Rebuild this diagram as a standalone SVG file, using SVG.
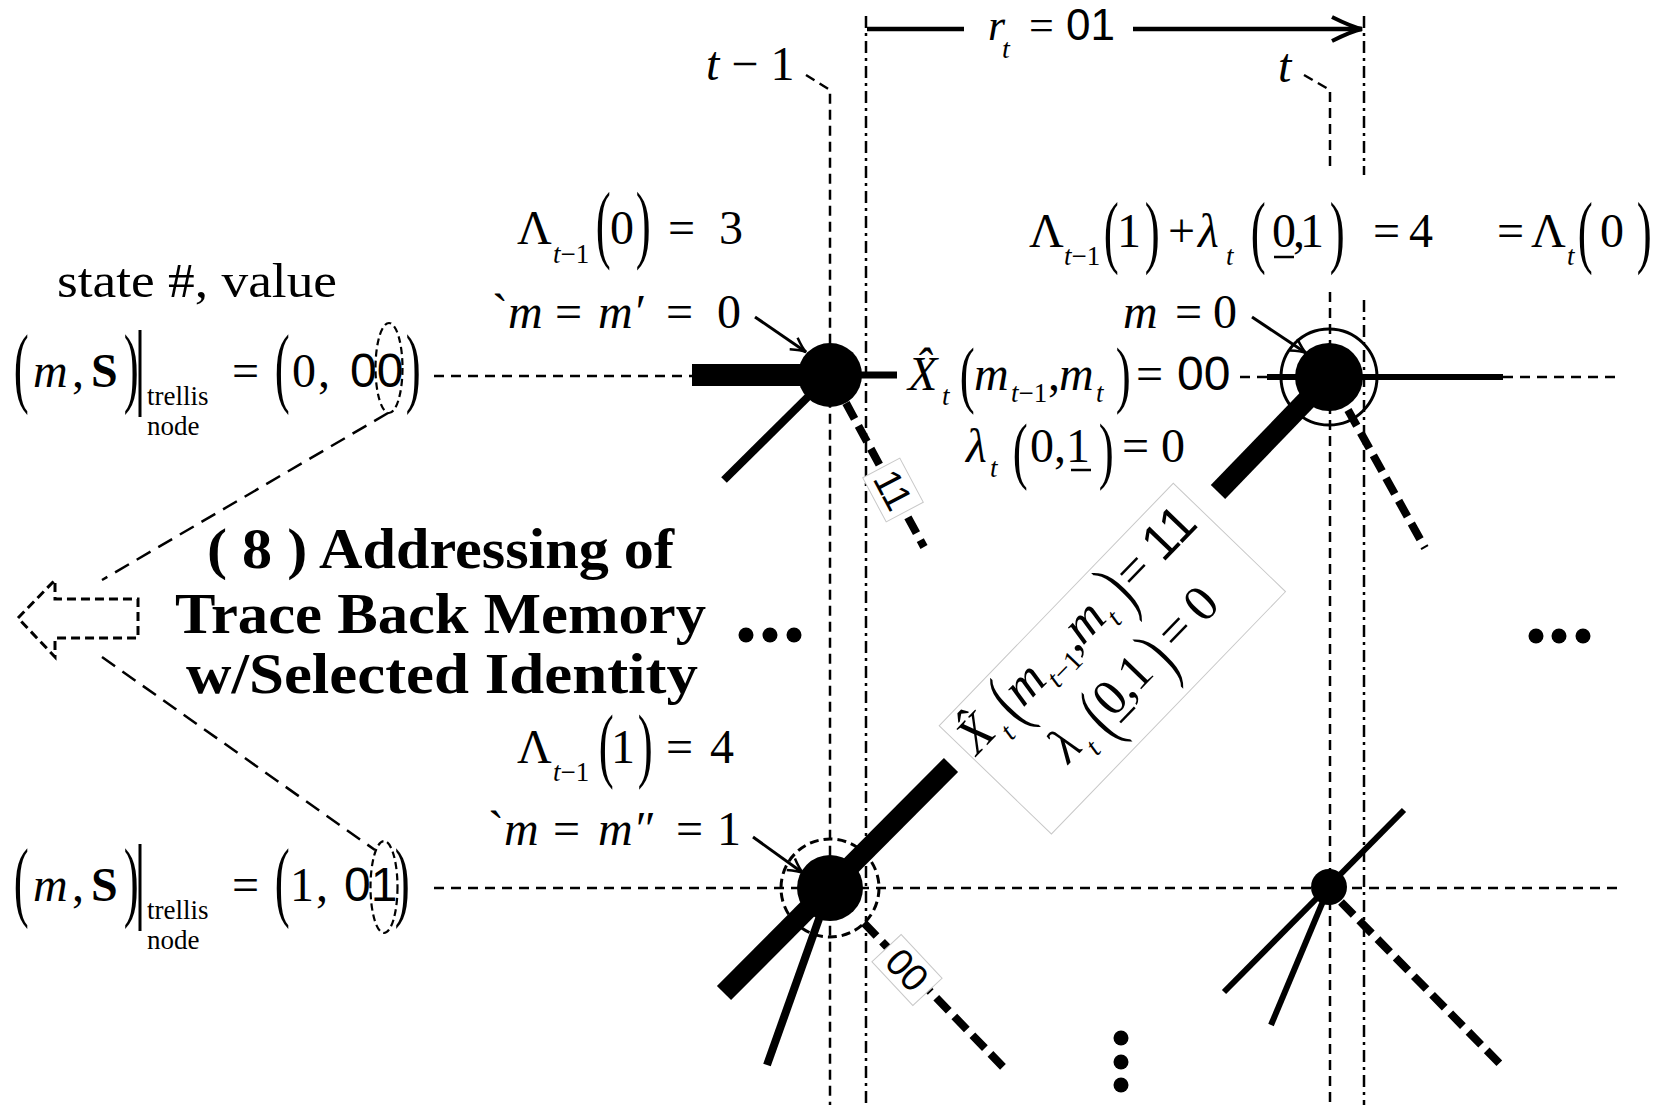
<svg xmlns="http://www.w3.org/2000/svg" width="1668" height="1105" viewBox="0 0 1668 1105">
<defs>
<style>
text{font-family:"Liberation Serif","Times New Roman",serif;font-size:48px;fill:#000}
.i{font-style:italic}
.n{font-style:normal}
.sb{font-size:27px}
.sn{font-family:"Liberation Sans",Arial,sans-serif}
.b{font-weight:bold}
.pr{font-size:50px}
.ttl{font-weight:bold;font-size:56px}
.bx text{font-size:51px}
.bx .sb{font-size:28px}
.bx .pr{font-size:52px}
.vd{stroke:#000;stroke-width:2.5;stroke-dasharray:10 6;fill:none}
.vdd{stroke:#000;stroke-width:2.5;stroke-dasharray:12 5 3 5;fill:none}
.hd{stroke:#000;stroke-width:2.5;stroke-dasharray:10 7;fill:none}
.br{stroke:#000;stroke-width:8;fill:none}
.brt{stroke:#000;stroke-width:20;fill:none}
.brd{stroke:#000;stroke-width:8;stroke-dasharray:18 8;fill:none}
.ld{stroke:#000;stroke-width:2.5;stroke-dasharray:16 9;fill:none}
.ar{stroke:#000;stroke-width:3;fill:none;marker-end:url(#a1)}
.el{stroke:#000;stroke-width:2.2;stroke-dasharray:7 4;fill:none}
.ul{stroke:#000;stroke-width:2.5}
.lb{fill:#fff;stroke:#c8c8c8;stroke-width:1}
.bl{font-family:"Liberation Sans",Arial,sans-serif;font-size:38px;text-anchor:middle}
</style>
<marker id="a1" markerUnits="userSpaceOnUse" markerWidth="24" markerHeight="24" viewBox="-20 -12 24 24" refX="0" refY="0" orient="auto">
<path d="M-15,-7 Q-5,-1 0,0 Q-5,1 -15,7" fill="none" stroke="#000" stroke-width="2.5"/>
</marker>
<marker id="a2" markerUnits="userSpaceOnUse" markerWidth="38" markerHeight="32" viewBox="-34 -16 38 32" refX="0" refY="0" orient="auto">
<path d="M-30,-12 Q-10,-2 0,0 Q-10,2 -30,12" fill="none" stroke="#000" stroke-width="4"/>
</marker>
</defs>
<rect width="1668" height="1105" fill="#fff"/>

<g id="connectors">
<polyline class="vd" points="806,75 830,90 830,1105"/>
<line class="vdd" x1="866" y1="16" x2="866" y2="1105"/>
<polyline class="vd" points="1304,75 1330,90 1330,168"/>
<line class="vd" x1="1330" y1="292" x2="1330" y2="1105"/>
<line class="vdd" x1="1364" y1="16" x2="1364" y2="175"/>
<line class="vdd" x1="1364" y1="300" x2="1364" y2="1105"/>
<line x1="867" y1="29" x2="964" y2="29" stroke="#000" stroke-width="4.5"/>
<line x1="1133" y1="29" x2="1362" y2="29" stroke="#000" stroke-width="4.5" marker-end="url(#a2)"/>
<line class="hd" x1="434" y1="376" x2="692" y2="376"/>
<line x1="692" y1="375" x2="830" y2="375" stroke="#000" stroke-width="22"/>
<line x1="830" y1="375" x2="897" y2="375" stroke="#000" stroke-width="7"/>
<line class="hd" x1="1240" y1="377" x2="1267" y2="377"/>
<line x1="1267" y1="377" x2="1503" y2="377" stroke="#000" stroke-width="6"/>
<line class="hd" x1="1503" y1="377" x2="1619" y2="377"/>
<line class="hd" x1="434" y1="888" x2="1619" y2="888"/>
<line class="br" x1="830" y1="375" x2="724" y2="480"/>
<line class="brd" x1="846" y1="403" x2="924" y2="547"/>
<line class="brt" x1="724" y1="993" x2="951" y2="765"/>
<line class="brt" x1="1218" y1="492" x2="1329" y2="377"/>
<line class="br" x1="830" y1="888" x2="767" y2="1065"/>
<line class="brd" x1="864" y1="923" x2="1006" y2="1070"/>
<line class="brd" x1="1348" y1="410" x2="1425" y2="548"/>
<line x1="1404" y1="810" x2="1224" y2="992" stroke="#000" stroke-width="6"/>
<line x1="1329" y1="887" x2="1271" y2="1025" stroke="#000" stroke-width="6"/>
<line class="brd" x1="1341" y1="902" x2="1503" y2="1067"/>
<line class="ar" x1="755" y1="317" x2="806" y2="352"/>
<line class="ar" x1="1252" y1="317" x2="1306" y2="353"/>
<line class="ar" x1="753" y1="837" x2="803" y2="873"/>
<line class="ld" x1="388" y1="413" x2="102" y2="580"/>
<line class="ld" x1="102" y1="657" x2="375" y2="850"/>
</g>

<g id="node-tl"><circle cx="830" cy="375" r="32"/></g>
<g id="node-tr"><circle cx="1329" cy="377" r="48" fill="none" stroke="#000" stroke-width="3"/><circle cx="1329" cy="377" r="34"/></g>
<g id="node-bl"><circle cx="830" cy="888" r="49" fill="none" stroke="#000" stroke-width="3" stroke-dasharray="9 5"/><circle cx="830" cy="888" r="33"/></g>
<g id="node-br"><circle cx="1329" cy="887" r="18"/></g>

<g id="label-11" transform="translate(893,490) rotate(62)">
<rect class="lb" x="-25" y="-21" width="50" height="42"/>
<text class="bl" x="0" y="13">11</text>
</g>
<g id="label-00" transform="translate(907,970) rotate(47)">
<rect class="lb" x="-30" y="-20" width="60" height="40"/>
<text class="bl" x="0" y="13">00</text>
</g>

<g id="memory-arrow">
<polygon points="18,618 55,580 55,599 138,599 138,638 55,638 55,657" fill="none" stroke="#000" stroke-width="3" stroke-dasharray="9 5"/>
<text class="ttl" x="207" y="568" textLength="467" lengthAdjust="spacingAndGlyphs">( 8 ) Addressing of</text>
<text class="ttl" x="175" y="633" textLength="531" lengthAdjust="spacingAndGlyphs">Trace Back Memory</text>
<text class="ttl" x="186" y="693" textLength="512" lengthAdjust="spacingAndGlyphs">w/Selected Identity</text>
</g>

<g id="dots">
<circle cx="746" cy="635" r="7.5"/><circle cx="770" cy="635" r="7.5"/><circle cx="794" cy="635" r="7.5"/>
<circle cx="1536" cy="636" r="7.5"/><circle cx="1559" cy="636" r="7.5"/><circle cx="1583" cy="636" r="7.5"/>
<circle cx="1121" cy="1038" r="7.5"/><circle cx="1121" cy="1062" r="7.5"/><circle cx="1121" cy="1085" r="7.5"/>
</g>

<g id="time-labels">
<text x="706" y="80"><tspan class="i">t</tspan> − 1</text>
<text class="i" x="1278" y="82">t</text>
<text x="988" y="40" style="font-size:44px"><tspan class="i">r</tspan><tspan class="i" x="1002" y="58" style="font-size:28px">t</tspan><tspan x="1029" y="40">=</tspan></text>
<text class="sn" x="1066" y="40" style="font-size:44px">01</text>
</g>

<g id="state-0-label">
<text x="57" y="297" textLength="280" lengthAdjust="spacingAndGlyphs">state #, value</text>
<text class="pr" transform="translate(13.8,373) scale(0.9,1.77)" y="12.9">(</text>
<text x="33" y="387"><tspan class="i">m</tspan><tspan x="72">,</tspan><tspan class="b" x="91">S</tspan></text>
<text class="pr" transform="translate(123.7,373) scale(0.9,1.77)" y="12.9">)</text>
<line x1="140" y1="330" x2="140" y2="417" stroke="#000" stroke-width="3"/>
<text class="sb" x="147" y="405">trellis</text>
<text class="sb" x="147" y="435">node</text>
<text x="232" y="387">=</text>
<text class="pr" transform="translate(274.8,373) scale(0.9,1.77)" y="12.9">(</text>
<text x="292" y="387">0<tspan x="318">,</tspan></text>
<text class="sn" x="350" y="387">00</text>
<ellipse class="el" cx="389" cy="368" rx="13.5" ry="45"/>
<text class="pr" transform="translate(405.7,373) scale(0.9,1.77)" y="12.9">)</text>
</g>

<g id="state-1-label">
<text class="pr" transform="translate(13.8,887) scale(0.9,1.77)" y="12.9">(</text>
<text x="33" y="901"><tspan class="i">m</tspan><tspan x="72">,</tspan><tspan class="b" x="91">S</tspan></text>
<text class="pr" transform="translate(123.7,887) scale(0.9,1.77)" y="12.9">)</text>
<line x1="140" y1="844" x2="140" y2="931" stroke="#000" stroke-width="3"/>
<text class="sb" x="147" y="919">trellis</text>
<text class="sb" x="147" y="949">node</text>
<text x="232" y="901">=</text>
<text class="pr" transform="translate(274.8,887) scale(0.9,1.77)" y="12.9">(</text>
<text x="290" y="901">1<tspan x="316">,</tspan></text>
<text class="sn" x="344" y="901">01</text>
<ellipse class="el" cx="384" cy="887" rx="13.5" ry="46"/>
<text class="pr" transform="translate(394.7,887) scale(0.9,1.77)" y="12.9">)</text>
</g>

<g id="node-tl-labels">
<text x="517" y="244">Λ<tspan class="sb" x="553" y="263"><tspan class="i">t</tspan>−1</tspan></text>
<text class="pr" transform="translate(595.8,230) scale(0.9,1.72)" y="12.9">(</text>
<text x="610" y="244">0</text>
<text class="pr" transform="translate(635.7,230) scale(0.9,1.72)" y="12.9">)</text>
<text x="668" y="244">=<tspan x="719">3</tspan></text>
<text x="492" y="328">`<tspan class="i">m</tspan><tspan x="555">=</tspan><tspan class="i" x="598">m′</tspan><tspan x="666">=</tspan><tspan x="717">0</tspan></text>
</g>

<g id="node-bl-labels">
<text x="517" y="763">Λ<tspan class="sb" x="553" y="781"><tspan class="i">t</tspan>−1</tspan></text>
<text class="pr" transform="translate(598.8,751) scale(0.9,1.66)" y="12.9">(</text>
<text x="611" y="763">1</text>
<text class="pr" transform="translate(637.7,751) scale(0.9,1.66)" y="12.9">)</text>
<text x="666" y="763">=<tspan x="710">4</tspan></text>
<text x="488" y="845">`<tspan class="i">m</tspan><tspan x="553">=</tspan><tspan class="i" x="598">m″</tspan><tspan x="676">=</tspan><tspan x="717">1</tspan></text>
</g>

<g id="node-tr-labels">
<text x="1029" y="247">Λ<tspan class="sb" x="1064" y="265"><tspan class="i">t</tspan>−1</tspan></text>
<text class="pr" transform="translate(1103.8,237) scale(0.9,1.59)" y="12.9">(</text>
<text x="1117" y="247">1</text>
<text class="pr" transform="translate(1144.7,237) scale(0.9,1.59)" y="12.9">)</text>
<text x="1168" y="247">+<tspan class="i" x="1198">λ</tspan><tspan class="sb i" x="1226" y="265">t</tspan></text>
<text class="pr" transform="translate(1250.8,237) scale(0.9,1.59)" y="12.9">(</text>
<text x="1272" y="247">0<tspan x="1293">,</tspan><tspan x="1300">1</tspan></text>
<line class="ul" x1="1274" y1="257" x2="1294" y2="257"/>
<text class="pr" transform="translate(1329.7,237) scale(0.9,1.59)" y="12.9">)</text>
<text x="1373" y="247">=<tspan x="1409">4</tspan><tspan x="1497">=</tspan><tspan x="1531">Λ</tspan><tspan class="sb i" x="1567" y="265">t</tspan></text>
<text class="pr" transform="translate(1577.8,237) scale(0.9,1.59)" y="12.9">(</text>
<text x="1600" y="247">0</text>
<text class="pr" transform="translate(1636.7,237) scale(0.9,1.59)" y="12.9">)</text>
<text x="1123" y="328"><tspan class="i">m</tspan><tspan x="1175">=</tspan><tspan x="1213">0</tspan></text>
</g>

<g id="branch-00-label">
<text class="i" x="908" y="390">X̂<tspan class="sb" x="942" y="405">t</tspan></text>
<text class="pr" transform="translate(959.8,380) scale(0.9,1.5)" y="12.9">(</text>
<text class="i" x="974" y="390">m<tspan class="sb" x="1011" y="402">t<tspan class="n">−1</tspan></tspan><tspan class="n" x="1048" y="390">,</tspan><tspan x="1059">m</tspan><tspan class="sb" x="1096" y="402">t</tspan></text>
<text class="pr" transform="translate(1115.7,380) scale(0.9,1.5)" y="12.9">)</text>
<text x="1136" y="390">=</text>
<text class="sn" x="1177" y="390">00</text>
<text class="i" x="966" y="462">λ<tspan class="sb" x="990" y="477">t</tspan></text>
<text class="pr" transform="translate(1012.8,456) scale(0.9,1.5)" y="12.9">(</text>
<text x="1030" y="462">0<tspan x="1054">,</tspan><tspan x="1066">1</tspan></text>
<line class="ul" x1="1071" y1="470" x2="1091" y2="470"/>
<text class="pr" transform="translate(1098.7,456) scale(0.9,1.5)" y="12.9">)</text>
<text x="1122" y="462">=<tspan x="1161">0</tspan></text>
</g>

<g id="branch-11-label" class="bx" transform="translate(1112,659) rotate(-46) translate(-1072,-420)">
<rect class="lb" x="904" y="342" width="337" height="156"/>
<text class="i" x="908" y="390">X̂<tspan class="sb" x="943" y="405">t</tspan></text>
<text class="pr" transform="translate(959.8,380) scale(0.9,1.5)" y="12.9">(</text>
<text class="i" x="975" y="390">m<tspan class="sb" x="1013" y="402">t<tspan class="n">−1</tspan></tspan><tspan class="n" x="1050" y="390">,</tspan><tspan x="1061">m</tspan><tspan class="sb" x="1099" y="402">t</tspan></text>
<text class="pr" transform="translate(1117.7,380) scale(0.9,1.5)" y="12.9">)</text>
<text x="1136" y="390">=</text>
<text class="sn" x="1176" y="390">11</text>
<text class="i" x="966" y="462">λ<tspan class="sb" x="991" y="477">t</tspan></text>
<text class="pr" transform="translate(1012.8,456) scale(0.9,1.5)" y="12.9">(</text>
<text x="1030" y="462">0<tspan x="1054">,</tspan><tspan x="1066">1</tspan></text>
<line class="ul" x1="1032" y1="470" x2="1053" y2="470"/>
<text class="pr" transform="translate(1098.7,456) scale(0.9,1.5)" y="12.9">)</text>
<text x="1122" y="462">=<tspan x="1161">0</tspan></text>
</g>
</svg>
